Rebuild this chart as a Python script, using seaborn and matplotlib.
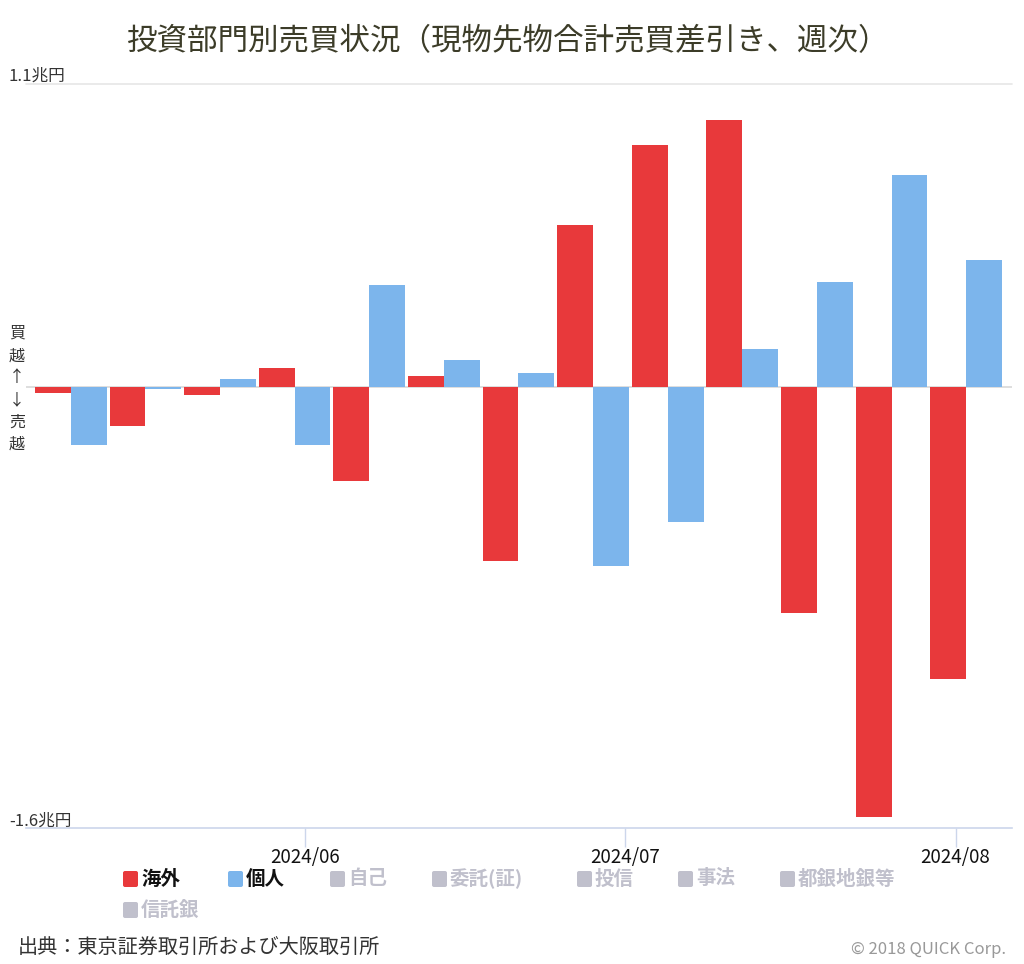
import matplotlib
matplotlib.use("Agg")
import matplotlib.pyplot as plt
import matplotlib.dates as mdates
from matplotlib.patches import FancyBboxPatch
import seaborn as sns
import pandas as pd
import numpy as np
import datetime as dt

# ---- data (兆円, weekly net buy/sell) ----
weeks = ["2024-05-10", "2024-05-17", "2024-05-24", "2024-05-31", "2024-06-07",
         "2024-06-14", "2024-06-21", "2024-06-28", "2024-07-05", "2024-07-12",
         "2024-07-19", "2024-07-26", "2024-08-02"]
overseas = [-0.02, -0.14, -0.03, 0.07, -0.34, 0.04, -0.63, 0.59, 0.88, 0.97, -0.82, -1.56, -1.06]
individual = [-0.21, -0.008, 0.03, -0.21, 0.37, 0.10, 0.05, -0.65, -0.49, 0.14, 0.38, 0.77, 0.46]
series_names = ["海外", "個人"]
colors = ["#e8393b", "#7cb5ec"]
legend_labels = ["海外", "個人", "自己", "委託(証)", "投信", "事法", "都銀地銀等", "信託銀"]
tick_months = ["2024-06-01", "2024-07-01", "2024-08-01"]
tick_labels = ["2024/06", "2024/07", "2024/08"]
y_min, y_max = -1.6, 1.1
y_labels = ["1.1兆円", "-1.6兆円"]

sns.set_style("white")
plt.rcParams["font.family"] = ["Noto Sans CJK JP", "DejaVu Sans"]

dates = [mdates.date2num(dt.date.fromisoformat(d)) for d in weeks]
df = pd.DataFrame({
    "x": dates * 2,
    "value": overseas + individual,
    "series": [series_names[0]] * len(dates) + [series_names[1]] * len(dates),
})

fig = plt.figure(figsize=(10.24, 9.64), dpi=100)
W, H = 1024, 964
ax = fig.add_axes([26 / W, 1 - 828 / H, (1012 - 26) / W, (828 - 84) / H])

sns.barplot(data=df, x="x", y="value", hue="series", hue_order=series_names,
            palette=colors, native_scale=True, errorbar=None, saturation=1,
            width=0.96, linewidth=0, legend=False, ax=ax)

jun1 = mdates.date2num(dt.date(2024, 6, 1))
ax.set_xlim(jun1 - 26.2, jun1 + 66.3)
ax.set_ylim(y_min, y_max)

for s in ["left", "right", "top"]:
    ax.spines[s].set_visible(False)
ax.spines["bottom"].set_color("#ccd6eb")
ax.spines["bottom"].set_linewidth(1.2)
ax.axhline(y_max, color="#e6e6e6", lw=1.2, zorder=0, clip_on=False)
ax.axhline(0, color="#d8d8d8", lw=1.2, zorder=0)

ax.set_yticks([])
ax.set_xticks([mdates.date2num(dt.date.fromisoformat(d)) for d in tick_months])
ax.set_xticklabels(tick_labels, fontsize=13.5, color="#111111")
ax.tick_params(axis="x", length=14, width=1, color="#ccd6eb", pad=0, bottom=True)
ax.set_xlabel("")
ax.set_ylabel("")

# y labels
fig.text(9 / W, 1 - 81 / H, y_labels[0], fontsize=12, color="#333333", va="baseline", ha="left")
fig.text(9 / W, 1 - 826 / H, y_labels[1], fontsize=12, color="#333333", va="baseline", ha="left")
fig.text(17 / W, 1 - 389 / H, "買\n越\n↑\n↓\n売\n越", fontsize=11.5, color="#333333",
         ha="center", va="center", linespacing=1.4)

# title
fig.text(507 / W, 1 - 42 / H, "投資部門別売買状況（現物先物合計売買差引き、週次）",
         fontsize=22, color="#3c3c28", ha="center", va="center")

# legend
leg_pos = [(123, 879), (228, 879), (330, 879), (432, 879), (577, 879), (678, 879), (780, 879), (123, 910)]
for i, (lab, (px, py)) in enumerate(zip(legend_labels, leg_pos)):
    if i < 2:
        c, tc = colors[i], "#111111"
    else:
        c, tc = "#c0c0cc", "#c0c0cc"
    sq = FancyBboxPatch(((px) / W, 1 - (py + 8) / H), 15 / W, 16 / H,
                        boxstyle="round,pad=0,rounding_size=0.002",
                        transform=fig.transFigure, facecolor=c, edgecolor="none")
    fig.add_artist(sq)
    fig.text((px + 18) / W, 1 - py / H, lab, fontsize=14, fontweight="bold",
             color=tc, ha="left", va="center")

# footer
fig.text(18 / W, 1 - 947 / H, "出典：東京証券取引所および大阪取引所", fontsize=14.5,
         color="#333333", ha="left", va="center")
fig.text(1006 / W, 1 - 950 / H, "© 2018 QUICK Corp.", fontsize=12,
         color="#999999", ha="right", va="center")

fig.savefig("out.png", dpi=100)
